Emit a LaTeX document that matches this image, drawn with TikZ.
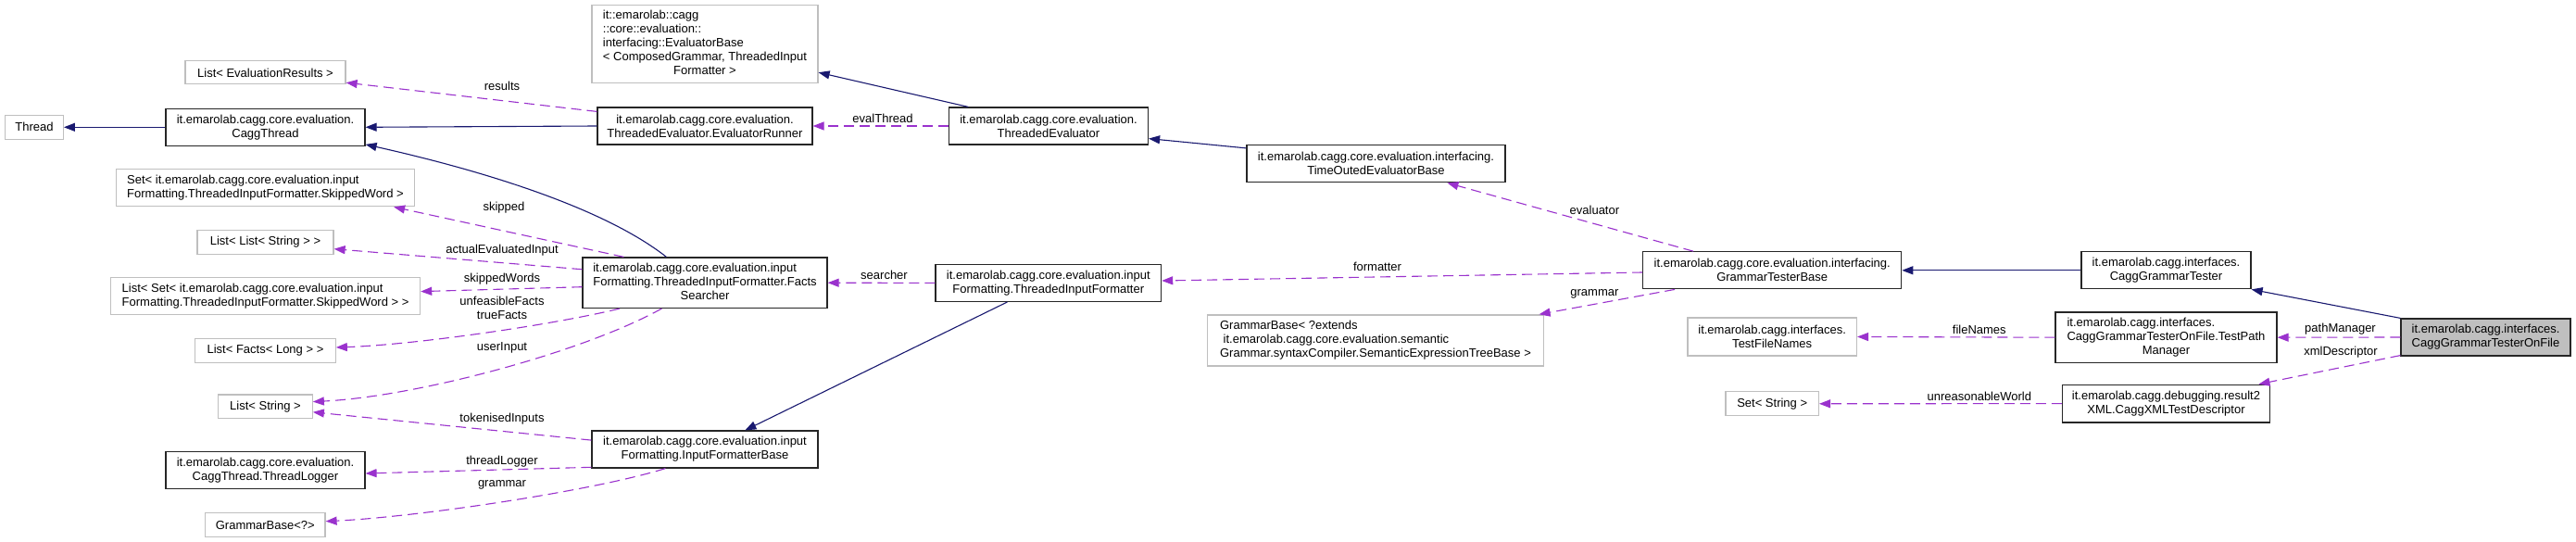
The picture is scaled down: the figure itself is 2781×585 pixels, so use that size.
\documentclass[tikz,border=0pt]{standalone}
\usepackage{fontspec}
\setmainfont{Liberation Sans}
\usetikzlibrary{arrows.meta}
\definecolor{inhcol}{HTML}{191970}
\definecolor{usecol}{HTML}{9A32CD}
\definecolor{undoc}{HTML}{BFBFBF}
\definecolor{mainfill}{HTML}{BFBFBF}
\newcommand\Lrows[1]{\begin{tabular}{@{}l@{}}#1\end{tabular}}
\newcommand\Crow[1]{\multicolumn{1}{@{}c@{}}{#1}}
\begin{document}
\begin{tikzpicture}[x=1pt,y=-1pt,
  font=\fontsize{13}{15}\selectfont,
  cls/.style={draw=black!85, line width=1.2pt, fill=white, inner sep=0pt, align=center},
  ext/.style={draw=undoc, line width=1.2pt, fill=white, inner sep=0pt, align=center},
  mainc/.style={cls, fill=mainfill},
  inh/.style={draw=inhcol, line width=1.1pt, -{Triangle[length=12pt,width=9pt]}},
  use/.style={draw=usecol, line width=1.1pt, dash pattern=on 11pt off 6pt, -{Triangle[length=12pt,width=9pt]}},
  lbl/.style={inner sep=0pt, align=center},
]
\useasboundingbox[fill=white] (0,0) rectangle (2781,585);

% ---- left column
\node[ext, minimum width=62.7pt, minimum height=26pt] (thread) at (37,137.3) {Thread};
\node[ext, minimum width=173pt, minimum height=25pt] (evres) at (286.5,78.4) {List{\textless} EvaluationResults {\textgreater}};
\node[cls, minimum width=215pt, minimum height=40pt] (caggthread) at (286.5,137.3) {it.emarolab.cagg.core.evaluation.\\CaggThread};
\node[ext, minimum width=322pt, minimum height=40pt] (setskip) at (286.5,202.8) {\Lrows{Set{\textless} it.emarolab.cagg.core.evaluation.input\\Formatting.ThreadedInputFormatter.SkippedWord {\textgreater}}};
\node[ext, minimum width=147pt, minimum height=26pt] (listlist) at (286.5,261.4) {List{\textless} List{\textless} String {\textgreater} {\textgreater}};
\node[ext, minimum width=334pt, minimum height=40pt] (listset) at (286.6,319.8) {\Lrows{List{\textless} Set{\textless} it.emarolab.cagg.core.evaluation.input\\Formatting.ThreadedInputFormatter.SkippedWord {\textgreater} {\textgreater}}};
\node[ext, minimum width=151.5pt, minimum height=25.5pt] (facts) at (286.5,378.4) {List{\textless} Facts{\textless} Long {\textgreater} {\textgreater}};
\node[ext, minimum width=101.5pt, minimum height=25.5pt] (liststr) at (286.5,438.8) {List{\textless} String {\textgreater}};
\node[cls, minimum width=215pt, minimum height=40pt] (logger) at (286.5,507.6) {it.emarolab.cagg.core.evaluation.\\CaggThread.ThreadLogger};
\node[ext, minimum width=129.4pt, minimum height=26pt] (gbq) at (286.3,566.6) {GrammarBase{\textless}?{\textgreater}};

% ---- second column
\node[ext, minimum width=244pt, minimum height=84pt] (evbase) at (761,47.6) {\Lrows{it::emarolab::cagg\\::core::evaluation::\\interfacing::EvaluatorBase\\{\textless} ComposedGrammar, ThreadedInput\\\Crow{Formatter {\textgreater}}}};
\node[cls, minimum width=232pt, minimum height=40pt] (runner) at (761,136) {it.emarolab.cagg.core.evaluation.\\ThreadedEvaluator.EvaluatorRunner};
\node[cls, minimum width=264pt, minimum height=54.5pt] (factssearch) at (761,305.2) {\Lrows{it.emarolab.cagg.core.evaluation.input\\Formatting.ThreadedInputFormatter.Facts\\\Crow{Searcher}}};
\node[cls, minimum width=244pt, minimum height=40pt] (ifb) at (761,485) {it.emarolab.cagg.core.evaluation.input\\Formatting.InputFormatterBase};

% ---- third column
\node[cls, minimum width=215pt, minimum height=40pt] (threval) at (1132,136) {it.emarolab.cagg.core.evaluation.\\ThreadedEvaluator};
\node[cls, minimum width=243.6pt, minimum height=40pt] (tif) at (1131.8,305.4) {it.emarolab.cagg.core.evaluation.input\\Formatting.ThreadedInputFormatter};

% ---- fourth column
\node[cls, minimum width=279pt, minimum height=40pt] (timeouted) at (1485.5,176.8) {it.emarolab.cagg.core.evaluation.interfacing.\\TimeOutedEvaluatorBase};
\node[ext, minimum width=363pt, minimum height=55pt] (gbext) at (1485,367.4) {\Lrows{GrammarBase{\textless} ?extends\\\hspace{3.6pt}it.emarolab.cagg.core.evaluation.semantic\\Grammar.syntaxCompiler.SemanticExpressionTreeBase {\textgreater}}};

% ---- fifth column
\node[cls, minimum width=279pt, minimum height=40pt] (gtb) at (1913.2,291.8) {it.emarolab.cagg.core.evaluation.interfacing.\\GrammarTesterBase};
\node[ext, minimum width=182.5pt, minimum height=41pt] (tfn) at (1913.2,363.5) {it.emarolab.cagg.interfaces.\\TestFileNames};
\node[ext, minimum width=100.4pt, minimum height=26pt] (setstr) at (1913.2,435.8) {Set{\textless} String {\textgreater}};

% ---- sixth column
\node[cls, minimum width=183pt, minimum height=40pt] (cgt) at (2338.5,291.8) {it.emarolab.cagg.interfaces.\\CaggGrammarTester};
\node[cls, minimum width=239pt, minimum height=54.4pt] (tpm) at (2338.5,364.2) {\Lrows{it.emarolab.cagg.interfaces.\\CaggGrammarTesterOnFile.TestPath\\\Crow{Manager}}};
\node[cls, minimum width=224pt, minimum height=40.7pt] (xmld) at (2338.5,435.6) {it.emarolab.cagg.debugging.result2\\XML.CaggXMLTestDescriptor};

% ---- main node
\node[mainc, minimum width=183pt, minimum height=40pt] (onfile) at (2683.5,364) {it.emarolab.cagg.interfaces.\\CaggGrammarTesterOnFile};

% ---- inheritance
\draw[inh] (caggthread.west) -- (thread.east);
\draw[inh] (runner.west) -- (caggthread.east);
\draw[inh] ([xshift=91pt]factssearch.north west) .. controls (640,215) and (480,175) .. ([yshift=2pt]caggthread.south east);
\draw[inh] ([xshift=21.4pt]threval.north west) -- ([yshift=12pt]evbase.south east);
\draw[inh] ([yshift=-3.7pt]timeouted.north west) -- ([yshift=7pt]threval.south east);
\draw[inh] ([xshift=78pt]tif.south west) -- ([xshift=166pt]ifb.north west);
\draw[inh] (cgt.west) -- (gtb.east);
\draw[inh] (onfile.north west) -- (cgt.south east);

% ---- usage
\draw[use] ([yshift=-5pt]runner.north west) -- ([yshift=2.3pt]evres.south east);
\draw[use] (threval.west) -- (runner.east);
\draw[use] ([xshift=45pt]factssearch.north west) -- ([xshift=-23pt]setskip.south east);
\draw[use] ([yshift=-13.4pt]factssearch.north west) -- ([yshift=-7.3pt]listlist.east);
\draw[use] ([yshift=-4.5pt]factssearch.west) -- ([yshift=5.2pt]listset.east);
\draw[use] ([xshift=40.6pt]factssearch.south west) .. controls (600,350) and (450,372) .. ([yshift=3.4pt]facts.east);
\draw[use] ([xshift=86pt]factssearch.south west) .. controls (630,380) and (450,428) .. ([yshift=5.2pt]liststr.east);
\draw[use] ([yshift=-10.7pt]ifb.north west) -- ([yshift=-6pt]liststr.east);
\draw[use] ([yshift=1.3pt]ifb.south west) -- ([yshift=-3.4pt]logger.east);
\draw[use] ([xshift=80pt]ifb.south west) .. controls (640,530) and (450,558) .. ([yshift=3.9pt]gbq.east);
\draw[use] (tif.west) -- (factssearch.east);
\draw[use] ([yshift=-2.2pt]gtb.west) -- ([yshift=2.4pt]tif.east);
\draw[use] ([xshift=55pt]gtb.north west) -- ([xshift=217pt]timeouted.south west);
\draw[use] ([xshift=35pt]gtb.south west) -- ([xshift=-5.5pt]gbext.north east);
\draw[use] (tpm.west) -- (tfn.east);
\draw[use] (xmld.west) -- (setstr.east);
\draw[use] (onfile.west) -- (tpm.east);
\draw[use] ([yshift=1pt]onfile.south west) -- ([xshift=-12.6pt]xmld.north east);

% ---- labels
\node[lbl] (l-results) at (542,92.5) {results};
\node[lbl] (l-evalthread) at (953,127.6) {evalThread};
\node[lbl] (l-skipped) at (544,224.6) {skipped};
\node[lbl] (l-actual) at (542,270.5) {actualEvaluatedInput};
\node[lbl] (l-skippedwords) at (542,300.7) {skippedWords};
\node[lbl] (l-facts) at (542,332) {unfeasibleFacts\\trueFacts};
\node[lbl] (l-userinput) at (542,375.7) {userInput};
\node[lbl] (l-tokenised) at (542,452.6) {tokenisedInputs};
\node[lbl] (l-threadlogger) at (542,498.5) {threadLogger};
\node[lbl] (l-grammar1) at (542,523) {grammar};
\node[lbl] (l-searcher) at (954.5,296.6) {searcher};
\node[lbl] (l-formatter) at (1487,287.7) {formatter};
\node[lbl] (l-evaluator) at (1721.4,226.5) {evaluator};
\node[lbl] (l-grammar2) at (1721.4,317.2) {grammar};
\node[lbl] (l-filenames) at (2136.8,355.6) {fileNames};
\node[lbl] (l-unreasonable) at (2136.8,427.6) {unreasonableWorld};
\node[lbl] (l-pathmanager) at (2526.5,355.6) {pathManager};
\node[lbl] (l-xmldescriptor) at (2527,380.6) {xmlDescriptor};
\end{tikzpicture}
\end{document}
